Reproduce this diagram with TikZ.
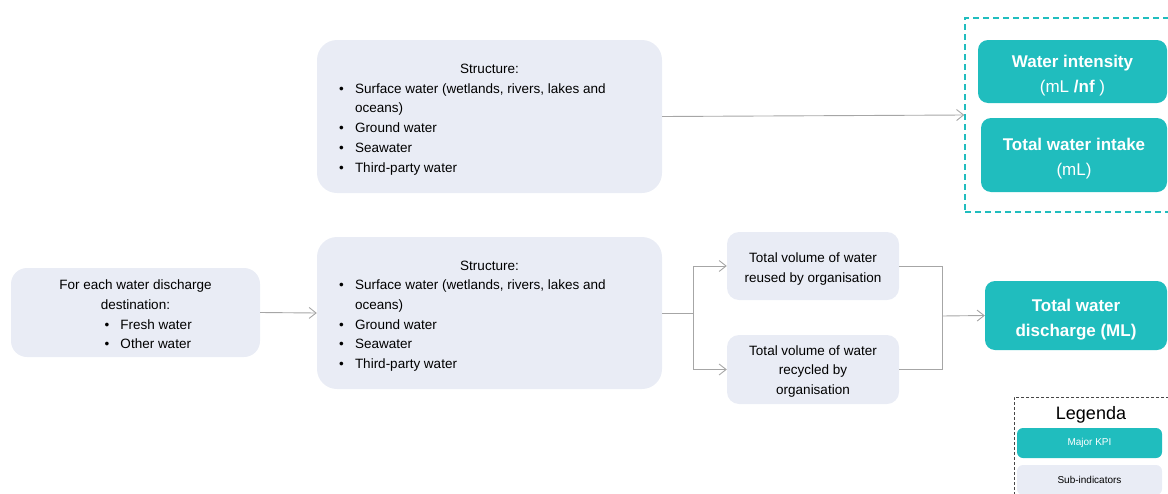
\documentclass[tikz,border=0pt]{standalone}
\usepackage{fontspec}
\setmainfont{Liberation Sans}
\usetikzlibrary{arrows.meta}
\definecolor{kpiteal}{RGB}{32,189,190}
\definecolor{subfill}{RGB}{233,236,245}
\definecolor{linegrey}{RGB}{166,166,166}
\definecolor{legendline}{RGB}{70,70,70}
% bullet followed by a fixed indent
\newcommand{\wbul}{\makebox[16pt][l]{\textbullet}}
\begin{document}
\begin{tikzpicture}[x=1pt,y=-1pt,
  subbox/.style={fill=subfill, rounded corners=#1, inner sep=0pt},
  subbox/.default=20pt,
  subtext/.style={inner sep=0pt, align=center, text=black,
    font=\fontsize{13.5}{19.7}\selectfont},
  kpibox/.style={fill=kpiteal, rounded corners=10pt, inner sep=0pt},
  kpitext/.style={inner sep=0pt, align=center, text=white,
    font=\fontsize{17}{25}\selectfont},
  conn/.style={draw=linegrey, line width=0.9pt},
  >={Straight Barb[length=7pt,width=11pt,line width=0.9pt]}]
\useasboundingbox (0,0) rectangle (1168,493);
\clip (0,0) rectangle (1168,493);

% intake structure
\node[subbox, minimum width=345pt, minimum height=153pt] (s1) at (489.5,116.5) {};
\node[subtext, align=left] (s1text) at ([yshift=-3pt]s1.center)
  {\makebox[301pt]{Structure:}\\
   \wbul Surface water (wetlands, rivers, lakes and\\
   \hspace*{16pt}oceans)\\
   \wbul Ground water\\
   \wbul Seawater\\
   \wbul Third-party water};

% discharge structure
\node[subbox, minimum width=345pt, minimum height=152pt] (s2) at (489.5,313) {};
\node[subtext, align=left] (s2text) at ([yshift=-3pt]s2.center)
  {\makebox[301pt]{Structure:}\\
   \wbul Surface water (wetlands, rivers, lakes and\\
   \hspace*{16pt}oceans)\\
   \wbul Ground water\\
   \wbul Seawater\\
   \wbul Third-party water};

% discharge destination
\node[subbox=16pt, minimum width=249pt, minimum height=89pt] (dest) at (135.5,312.5) {};
\node[subtext] (desttext) at ([yshift=-2pt]dest.center)
  {For each water discharge\\ destination:\\
   \makebox[62pt][l]{\wbul Fresh water}\\
   \makebox[62pt][l]{\wbul Other water}};

% reuse / recycle
\node[subbox=12pt, minimum width=172pt, minimum height=68pt] (reuse) at (813,266) {};
\node[subtext] (reusetext) at ([yshift=-3pt]reuse.center)
  {Total volume of water\\ reused by organisation};
\node[subbox=12pt, minimum width=172pt, minimum height=69pt] (recycle) at (813,369.5) {};
\node[subtext] (recycletext) at ([yshift=-2pt]recycle.center)
  {Total volume of water\\ recycled by\\ organisation};

% major KPIs
\node[draw=kpiteal, line width=1.5pt, dash pattern=on 6pt off 4pt, inner sep=0pt,
  minimum width=210pt, minimum height=194pt] (kpigroup) at (1070,115) {};
\node[kpibox, minimum width=189pt, minimum height=63pt] (intensity) at (1072.5,71.5) {};
\node[kpitext] (intensitytext) at ([yshift=-4pt]intensity.center)
  {\textbf{Water intensity}\\(mL \textbf{/nf} )};
\node[kpibox, minimum width=186pt, minimum height=74pt] (intake) at (1074,155) {};
\node[kpitext] (intaketext) at ([yshift=-4pt]intake.center)
  {\textbf{Total water intake}\\(mL)};
\node[kpibox, minimum width=182pt, minimum height=69pt] (discharge) at (1076,315.5) {};
\node[kpitext, font=\bfseries\fontsize{17}{25}\selectfont] (dischargetext) at ([yshift=-4pt]discharge.center)
  {Total water\\ discharge (ML)};

% legend
\node[draw=legendline, line width=0.9pt, dash pattern=on 3pt off 2pt, inner sep=0pt,
  minimum width=161pt, minimum height=103pt] (legend) at (1094.5,448.5) {};
\node[font=\fontsize{18}{20}\selectfont, inner sep=0pt] (legtitle) at (1091,414.5) {Legenda};
\node[kpibox, rounded corners=6pt, text=white, font=\fontsize{10}{12}\selectfont,
  minimum width=145pt, minimum height=30pt] (legkpi) at (1089.5,443) {Major KPI};
\node[subbox=6pt, font=\fontsize{10}{12}\selectfont,
  minimum width=145pt, minimum height=30pt] (legsub) at (1089.5,480) {Sub-indicators};

% connectors
\coordinate (j1) at (693,313);
\coordinate (j2) at (942,316);
\draw[conn,->] (s1.east) -- (kpigroup.west);
\draw[conn,->] (dest.east) -- (s2.west);
\draw[conn] (s2.east) -- (j1);
\draw[conn,->] (j1) |- (reuse.west);
\draw[conn,->] (j1) |- (recycle.west);
\draw[conn] (reuse.east) -| (j2);
\draw[conn] (recycle.east) -| (j2);
\draw[conn,->] (j2) -- (discharge.west);
\end{tikzpicture}
\end{document}
